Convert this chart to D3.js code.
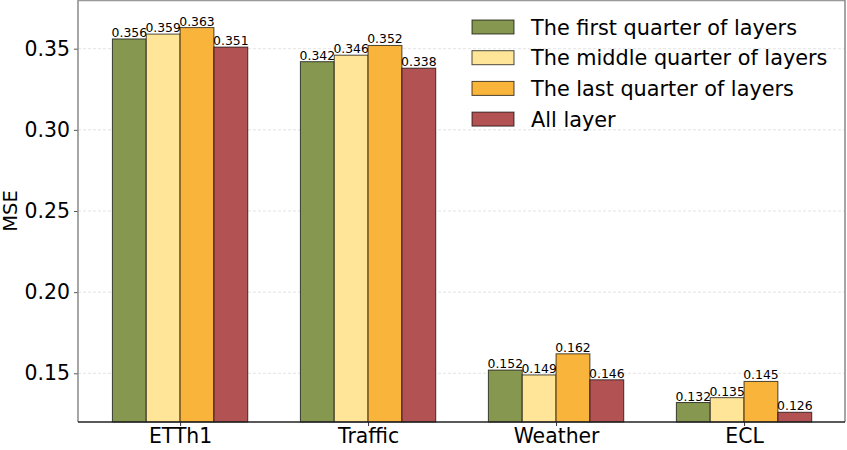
<!DOCTYPE html>
<html>
<head>
<meta charset="utf-8">
<script src="https://cdn.jsdelivr.net/npm/d3@7"></script>
<style>
  body { margin: 0; background: white; }
  svg { font-family: 'DejaVu Sans', sans-serif; }
</style>
</head>
<body>
<script>
const datasets = ['ETTh1', 'Traffic', 'Weather', 'ECL'];
const seriesNames = [
  'The first quarter of layers',
  'The middle quarter of layers',
  'The last quarter of layers',
  'All layer'
];
const firstQuarter = [0.356, 0.342, 0.152, 0.132];
const middleQuarter = [0.359, 0.346, 0.149, 0.135];
const lastQuarter = [0.363, 0.352, 0.162, 0.145];
const allLayer = [0.351, 0.338, 0.146, 0.126];
const yTicks = [0.15, 0.20, 0.25, 0.30, 0.35];

const series = [firstQuarter, middleQuarter, lastQuarter, allLayer];
const colors = ['#86974f', '#fee597', '#f9b43b', '#b35253'];

const width = 847;
const height = 450;
const margin = { top: 0, right: 2, bottom: 28, left: 78 };

const svg = d3.select('body').append('svg')
  .attr('width', width)
  .attr('height', height);

const x = d3.scaleLinear()
  .domain([-0.543, 3.537])
  .range([margin.left, width - margin.right]);

const y = d3.scaleLinear()
  .domain([0.12, 0.38])
  .range([height - margin.bottom, margin.top]);

const barW = 0.18;

// grid
svg.append('g')
  .selectAll('line')
  .data(yTicks)
  .join('line')
    .attr('x1', x.range()[0])
    .attr('x2', x.range()[1])
    .attr('y1', d => y(d))
    .attr('y2', d => y(d))
    .attr('stroke', '#dcdcdc')
    .attr('stroke-width', 0.8)
    .attr('stroke-dasharray', '3,2');

// bars
series.forEach((vals, si) => {
  const off = (si - 1.5) * barW;
  const g = svg.append('g');
  g.selectAll('rect')
    .data(vals)
    .join('rect')
      .attr('x', (d, i) => x(i + off - barW / 2))
      .attr('width', x(barW) - x(0))
      .attr('y', d => y(d))
      .attr('height', d => y(0.12) - y(d))
      .attr('fill', colors[si])
      .attr('stroke', 'rgba(0,0,0,0.7)')
      .attr('stroke-width', 1);
  g.selectAll('text')
    .data(vals)
    .join('text')
      .attr('x', (d, i) => x(i + off))
      .attr('y', d => y(d) - 2)
      .attr('text-anchor', 'middle')
      .attr('font-size', 12.4)
      .attr('fill', 'black')
      .text(d => d.toFixed(3));
});

// axes
const yAxis = svg.append('g')
  .attr('transform', `translate(${margin.left},0)`)
  .call(d3.axisLeft(y).tickValues(yTicks).tickFormat(d3.format('.2f')).tickSize(4).tickPadding(4));
yAxis.select('.domain').remove();
yAxis.selectAll('.tick line').attr('stroke', '#555');
yAxis.selectAll('text').attr('font-size', 20.4).attr('font-family', 'DejaVu Sans').attr('fill', 'black');

const xAxis = svg.append('g')
  .attr('transform', `translate(0,${height - margin.bottom})`)
  .call(d3.axisBottom(x).tickValues(d3.range(datasets.length)).tickFormat(i => datasets[i]).tickSize(4).tickPadding(3));
xAxis.select('.domain').remove();
xAxis.selectAll('.tick line').attr('stroke', '#333');
xAxis.selectAll('text').attr('font-size', 20.4).attr('font-family', 'DejaVu Sans').attr('fill', 'black');

// spines
const [x0, x1] = x.range();
const [yb, yt] = y.range();
svg.append('line').attr('x1', x0).attr('x2', x0).attr('y1', yt).attr('y2', yb).attr('stroke', '#888').attr('stroke-width', 1.5);
svg.append('line').attr('x1', x0).attr('x2', x1).attr('y1', yt + 0.5).attr('y2', yt + 0.5).attr('stroke', '#999').attr('stroke-width', 1.5);
svg.append('line').attr('x1', x1).attr('x2', x1).attr('y1', yt).attr('y2', yb).attr('stroke', '#888').attr('stroke-width', 1.5);
svg.append('line').attr('x1', x0).attr('x2', x1).attr('y1', yb).attr('y2', yb).attr('stroke', '#222').attr('stroke-width', 1.5);

// y label
svg.append('text')
  .attr('transform', `translate(17,${(yt + yb) / 2}) rotate(-90)`)
  .attr('text-anchor', 'middle')
  .attr('font-size', 19.5)
  .attr('fill', 'black')
  .text('MSE');

// legend
const legend = svg.append('g').attr('transform', 'translate(472,27)');
seriesNames.forEach((name, i) => {
  const row = legend.append('g').attr('transform', `translate(0,${i * 30.7})`);
  row.append('rect')
    .attr('x', 0).attr('y', -7)
    .attr('width', 42).attr('height', 14)
    .attr('fill', colors[i])
    .attr('stroke', 'rgba(0,0,0,0.7)')
    .attr('stroke-width', 1);
  row.append('text')
    .attr('x', 59).attr('y', 7.5)
    .attr('font-size', 20.8)
    .attr('fill', 'black')
    .text(name);
});
</script>
</body>
</html>
